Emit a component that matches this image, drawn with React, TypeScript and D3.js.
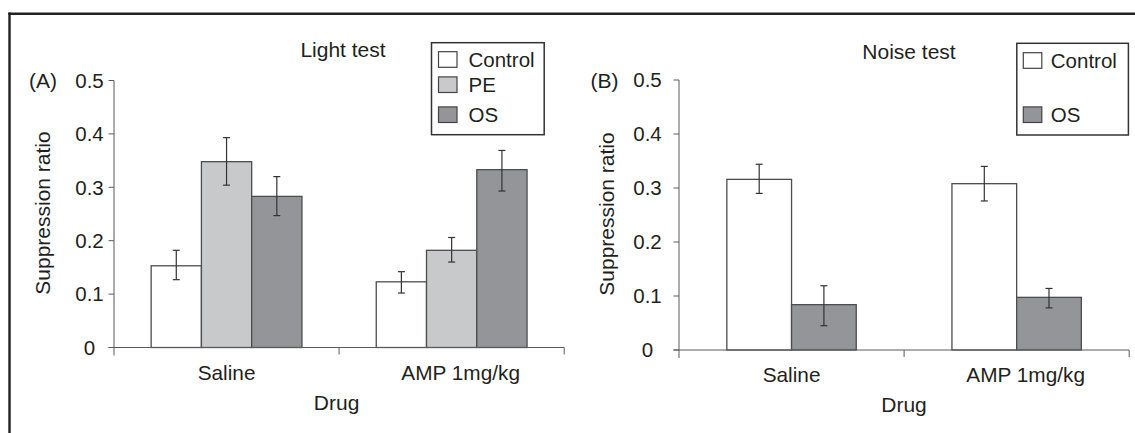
import React from "react";
import * as d3 from "d3";

// ---------- data ----------
const categories = ["Saline", "AMP 1mg/kg"];
const yTicks = [0, 0.1, 0.2, 0.3, 0.4, 0.5];
const yTickLabels = ["0", "0.1", "0.2", "0.3", "0.4", "0.5"];

const lightSeries = ["Control", "PE", "OS"];
const lightMeans = [
  [0.153, 0.348, 0.283],
  [0.123, 0.182, 0.333],
];
const lightErrHi = [
  [0.182, 0.393, 0.32],
  [0.142, 0.206, 0.369],
];
const lightErrLo = [
  [0.127, 0.304, 0.247],
  [0.102, 0.16, 0.293],
];

const noiseSeries = ["Control", "OS"];
const noiseMeans = [
  [0.316, 0.084],
  [0.308, 0.0975],
];
const noiseErrHi = [
  [0.344, 0.119],
  [0.34, 0.114],
];
const noiseErrLo = [
  [0.29, 0.045],
  [0.276, 0.078],
];

const seriesColor: Record<string, string> = {
  Control: "#ffffff",
  PE: "#c8c9cb",
  OS: "#939598",
};

const FONT = "Liberation Sans, Arial, sans-serif";
const TEXT = "#231f20";

type PanelProps = {
  label: string;
  title: string;
  series: string[];
  means: number[][];
  hi: number[][];
  lo: number[][];
  axisX: number;
  axisEnd: number;
  yTop: number;
  yBottom: number;
  groupW: number;
  titleX: number;
  titleY: number;
  drugX: number;
  drugY: number;
  tickLabelX: number;
  yLabelX: number;
  panelLabelX: number;
  legend: { x: number; y: number; w: number; h: number; rows: number[]; sw: number; tx: number };
};

function Panel(p: PanelProps) {
  const y = d3.scaleLinear().domain([0, 0.5]).range([p.yBottom, p.yTop]);
  const x = d3.scaleBand<string>().domain(categories).range([p.axisX, p.axisEnd]);
  const bw = x.bandwidth();
  const inner = d3
    .scaleBand<string>()
    .domain(p.series)
    .range([(bw - p.groupW) / 2, (bw + p.groupW) / 2]);
  const y0 = y(0);
  const axisColor = "#5a5a5c";
  return (
    <g>
      {/* bars */}
      {categories.map((c, ci) =>
        p.series.map((s, si) => {
          const bx = (x(c) as number) + (inner(s) as number);
          const w = inner.bandwidth();
          const v = p.means[ci][si];
          const cx = bx + w / 2;
          return (
            <g key={c + s}>
              <rect
                x={bx}
                y={y(v)}
                width={w}
                height={y0 - y(v)}
                fill={seriesColor[s]}
                stroke="#4d4d4f"
                strokeWidth={1.3}
              />
              <line x1={cx} x2={cx} y1={y(p.hi[ci][si])} y2={y(p.lo[ci][si])} stroke="#333" strokeWidth={1.2} />
              <line x1={cx - 3.5} x2={cx + 3.5} y1={y(p.hi[ci][si])} y2={y(p.hi[ci][si])} stroke="#333" strokeWidth={1.2} />
              <line x1={cx - 3.5} x2={cx + 3.5} y1={y(p.lo[ci][si])} y2={y(p.lo[ci][si])} stroke="#333" strokeWidth={1.2} />
            </g>
          );
        })
      )}
      {/* y axis */}
      <line x1={p.axisX} x2={p.axisX} y1={y(0.5)} y2={y0 + 8} stroke={axisColor} strokeWidth={1} />
      {yTicks.map((t, i) => (
        <g key={t}>
          <line x1={p.axisX - 5.5} x2={p.axisX} y1={y(t)} y2={y(t)} stroke={axisColor} strokeWidth={1} />
          <text
            x={p.tickLabelX}
            y={y(t)}
            dy="0.36em"
            textAnchor="middle"
            fontSize={20.5}
            fontFamily={FONT}
            fill={TEXT}
          >
            {yTickLabels[i]}
          </text>
        </g>
      ))}
      {/* x axis */}
      <line x1={p.axisX - 5.5} x2={p.axisEnd} y1={y0} y2={y0} stroke={axisColor} strokeWidth={1} />
      {categories.map((c) => (
        <line
          key={"t" + c}
          x1={(x(c) as number) + bw}
          x2={(x(c) as number) + bw}
          y1={y0}
          y2={y0 + 7}
          stroke={axisColor}
          strokeWidth={1}
        />
      ))}
      {categories.map((c) => (
        <text
          key={"l" + c}
          x={(x(c) as number) + bw / 2 + (c === "Saline" ? 0 : 9)}
          y={y0 + 32}
          textAnchor="middle"
          fontSize={20.8}
          fontFamily={FONT}
          fill={TEXT}
        >
          {c}
        </text>
      ))}
      <text x={p.drugX} y={p.drugY} textAnchor="middle" fontSize={21} fontFamily={FONT} fill={TEXT}>
        Drug
      </text>
      <text
        transform={`translate(${p.yLabelX},${(y(0.5) + y0) / 2 - 1}) rotate(-90)`}
        textAnchor="middle"
        dy="0.35em"
        fontSize={21}
        fontFamily={FONT}
        fill={TEXT}
      >
        Suppression ratio
      </text>
      <text x={p.panelLabelX} y={y(0.5)} dy="0.36em" fontSize={21} fontFamily={FONT} fill={TEXT}>
        {p.label}
      </text>
      <text x={p.titleX} y={p.titleY} textAnchor="middle" fontSize={21} fontFamily={FONT} fill={TEXT}>
        {p.title}
      </text>
      {/* legend */}
      <rect
        x={p.legend.x}
        y={p.legend.y}
        width={p.legend.w}
        height={p.legend.h}
        fill="#fff"
        stroke="#333"
        strokeWidth={1.5}
      />
      {p.series.map((s, i) => (
        <g key={"lg" + s}>
          <rect
            x={p.legend.x + p.legend.sw}
            y={p.legend.rows[i] - 7.8}
            width={18.5}
            height={15.6}
            fill={seriesColor[s]}
            stroke="#444"
            strokeWidth={1.2}
          />
          <text
            x={p.legend.x + p.legend.tx}
            y={p.legend.rows[i]}
            dy="0.36em"
            fontSize={20.5}
            fontFamily={FONT}
            fill={TEXT}
          >
            {s}
          </text>
        </g>
      ))}
    </g>
  );
}

export default function App() {
  return (
    <svg
      width={1135}
      height={433}
      style={{ position: "absolute", left: 0, top: 0, background: "#fff" }}
    >
      <rect x={0} y={0} width={1135} height={433} fill="#fff" />
      <line x1={8.3} x2={1135} y1={13.8} y2={13.8} stroke="#222" strokeWidth={2.4} />
      <line x1={9.5} x2={9.5} y1={12.6} y2={433} stroke="#222" strokeWidth={2.4} />
      <Panel
        label="(A)"
        title="Light test"
        series={lightSeries}
        means={lightMeans}
        hi={lightErrHi}
        lo={lightErrLo}
        axisX={114}
        axisEnd={564.2}
        yTop={80.5}
        yBottom={347.5}
        groupW={150.8}
        titleX={343}
        titleY={57}
        drugX={336.6}
        drugY={410}
        tickLabelX={89.5}
        yLabelX={42.7}
        panelLabelX={29}
        legend={{ x: 431.5, y: 42.7, w: 112.7, h: 92, rows: [59.5, 84.7, 114.7], sw: 7, tx: 37 }}
      />
      <Panel
        label="(B)"
        title="Noise test"
        series={noiseSeries}
        means={noiseMeans}
        hi={noiseErrHi}
        lo={noiseErrLo}
        axisX={679}
        axisEnd={1129.2}
        yTop={80}
        yBottom={350}
        groupW={129.4}
        titleX={909}
        titleY={58.5}
        drugX={904}
        drugY={412}
        tickLabelX={647.5}
        yLabelX={607}
        panelLabelX={590.4}
        legend={{ x: 1016.8, y: 43.3, w: 111.6, h: 91.7, rows: [60.5, 114.7], sw: 6.5, tx: 34 }}
      />
    </svg>
  );
}
